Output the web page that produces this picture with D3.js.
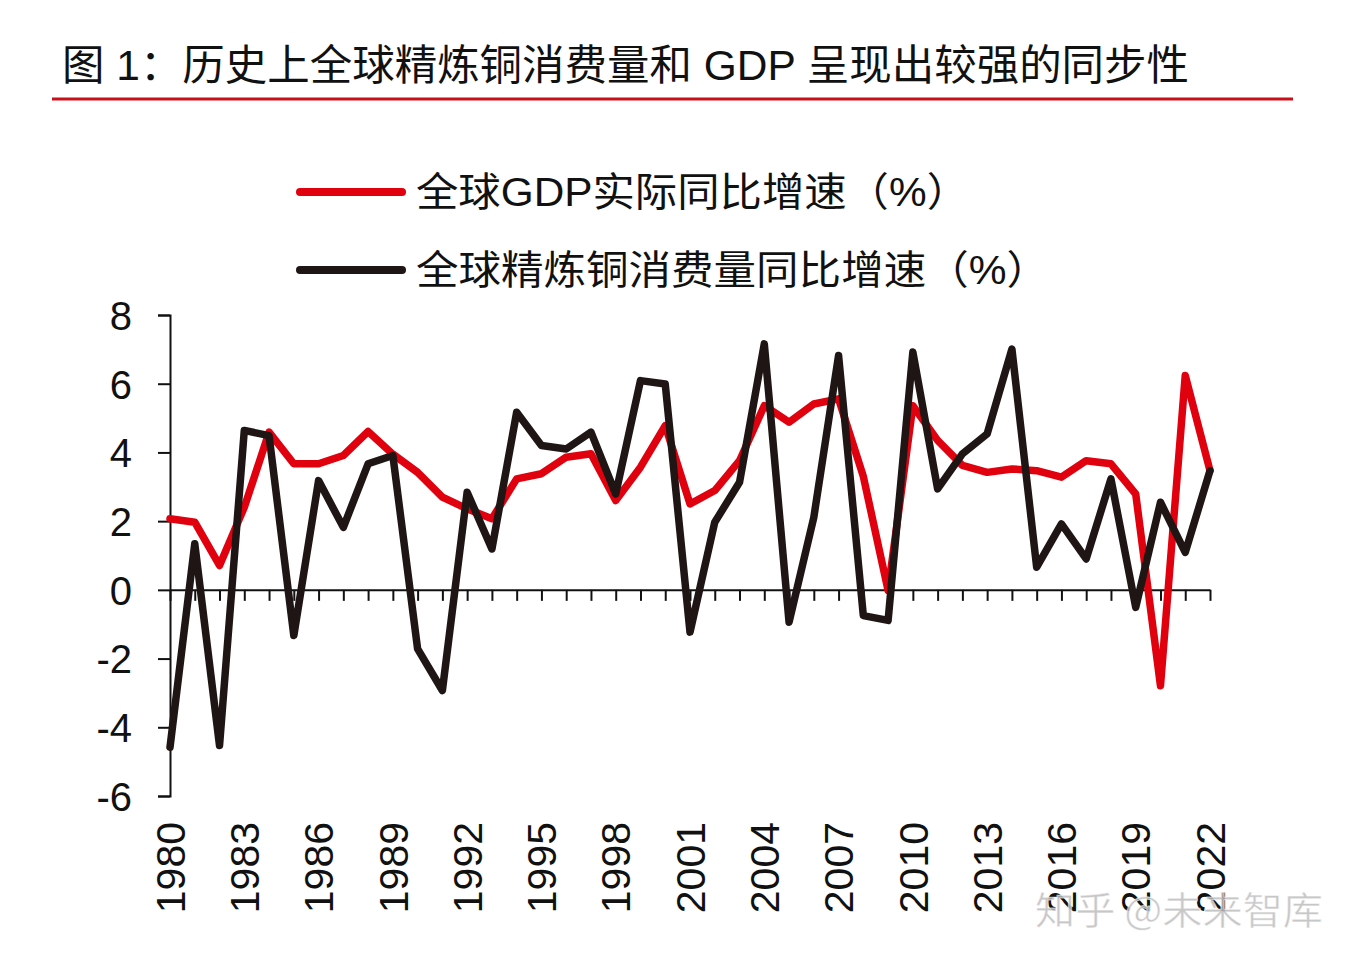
<!DOCTYPE html>
<html>
<head>
<meta charset="utf-8">
<script src="https://cdn.jsdelivr.net/npm/d3@7/dist/d3.min.js"></script>
<style>
  html, body { margin: 0; padding: 0; background: #fff; }
  svg { display: block; }
</style>
</head>
<body>
<svg id="chart" width="1358" height="966"></svg>
<script>
const years = d3.range(1980, 2023);
const gdpGrowth = [
  2.07, 1.97, 0.71, 2.40, 4.59, 3.67, 3.67, 3.91, 4.61, 3.95,
  3.42, 2.70, 2.36, 2.07, 3.23, 3.38, 3.86, 3.96, 2.60, 3.57,
  4.78, 2.50, 2.89, 3.76, 5.36, 4.88, 5.41, 5.56, 3.30, -0.02,
  5.36, 4.35, 3.62, 3.42, 3.52, 3.47, 3.28, 3.76, 3.67, 2.79,
  -2.79, 6.24, 3.47
];
const copperGrowth = [
  -4.58, 1.34, -4.53, 4.64, 4.49, -1.33, 3.18, 1.82, 3.67, 3.91,
  -1.72, -2.93, 2.84, 1.19, 5.17, 4.20, 4.10, 4.59, 2.79, 6.09,
  5.99, -1.23, 1.97, 3.13, 7.16, -0.94, 2.11, 6.82, -0.75, -0.89,
  6.92, 2.94, 3.96, 4.54, 7.01, 0.66, 1.92, 0.90, 3.23, -0.51,
  2.55, 1.09, 3.47
];
const yTicks = [8, 6, 4, 2, 0, -2, -4, -6];
const xLabelYears = [1980, 1983, 1986, 1989, 1992, 1995, 1998, 2001, 2004, 2007, 2010, 2013, 2016, 2019, 2022];
const titleText = "图 1：历史上全球精炼铜消费量和 GDP 呈现出较强的同步性";
const seriesNames = ["全球GDP实际同比增速（%）", "全球精炼铜消费量同比增速（%）"];
const watermark = "知乎 @未来智库";

const RED = "#e0000e";
const BLACK = "#1f1515";
const latin = "'Liberation Sans', Arial, 'Noto Sans CJK SC', sans-serif";
const cjk = "'Liberation Sans', 'Noto Sans CJK SC', sans-serif";

const svg = d3.select("#chart");

// Title
svg.append("text")
  .attr("x", 62).attr("y", 80)
  .attr("font-family", cjk).attr("font-size", 42)
  .attr("fill", "#111")
  .attr("textLength", 1127).attr("lengthAdjust", "spacingAndGlyphs")
  .text(titleText);
svg.append("line")
  .attr("x1", 52).attr("x2", 1293).attr("y1", 99).attr("y2", 99)
  .attr("stroke", "#c8101a").attr("stroke-width", 3);

// Scales
const x = d3.scaleLinear().domain([1980, 2022]).range([170, 1210]);
const y = d3.scaleLinear().domain([-6, 8]).range([796, 315]);

// Y axis
const yAxis = d3.axisLeft(y).tickValues(yTicks).tickSize(12).tickSizeOuter(12)
  .tickFormat(d => d3.format("d")(d));
const gy = svg.append("g").attr("transform", "translate(170,0)").call(yAxis);
gy.select(".domain").attr("stroke", "#111").attr("stroke-width", 2);
gy.selectAll(".tick line").attr("stroke", "#111").attr("stroke-width", 2);
gy.selectAll(".tick text")
  .attr("font-family", latin).attr("font-size", 40).attr("fill", "#111")
  .attr("x", -38).attr("dy", "0.36em").text(d => d < 0 ? "-" + Math.abs(d) : d);

// X axis at zero
const xAxis = d3.axisBottom(x).tickValues(years).tickSize(11).tickSizeOuter(0).tickFormat("");
const gx = svg.append("g").attr("transform", `translate(0,${y(0)})`).call(xAxis);
gx.select(".domain").attr("stroke", "#111").attr("stroke-width", 2);
gx.selectAll(".tick line").attr("stroke", "#111").attr("stroke-width", 2);

// X labels (rotated) at bottom
svg.append("g").selectAll("text").data(xLabelYears).join("text")
  .attr("transform", d => `translate(${x(d)},822) rotate(-90)`)
  .attr("text-anchor", "end").attr("dy", "0.36em")
  .attr("font-family", latin).attr("font-size", 41).attr("fill", "#111")
  .text(d => d);

// Lines
const line = d3.line().x((d, i) => x(years[i])).y(d => y(d)).curve(d3.curveLinear);
svg.append("path").datum(gdpGrowth)
  .attr("d", line).attr("fill", "none").attr("stroke", RED)
  .attr("stroke-width", 7.5).attr("stroke-linejoin", "round").attr("stroke-linecap", "round");
svg.append("path").datum(copperGrowth)
  .attr("d", line).attr("fill", "none").attr("stroke", BLACK)
  .attr("stroke-width", 7.5).attr("stroke-linejoin", "round").attr("stroke-linecap", "round");

// Legend
const legend = svg.append("g");
const legendRows = [
  { name: seriesNames[0], color: RED, y: 192, len: 553 },
  { name: seriesNames[1], color: BLACK, y: 270, len: 633 }
];
legendRows.forEach(r => {
  legend.append("line")
    .attr("x1", 300).attr("x2", 402).attr("y1", r.y).attr("y2", r.y)
    .attr("stroke", r.color).attr("stroke-width", 8).attr("stroke-linecap", "round");
  legend.append("text")
    .attr("x", 416).attr("y", r.y + 14)
    .attr("font-family", cjk).attr("font-size", 40).attr("fill", "#111")
    .attr("textLength", r.len).attr("lengthAdjust", "spacingAndGlyphs")
    .text(r.name);
});

// Watermark
svg.append("text")
  .attr("x", 1035).attr("y", 924)
  .attr("font-family", "'Noto Sans CJK SC', sans-serif").attr("font-size", 38)
  .attr("fill", "#bdbdbd").attr("fill-opacity", 0.85)
  .attr("stroke", "#ffffff").attr("stroke-width", 1).attr("stroke-opacity", 0.6)
  .attr("textLength", 288).attr("lengthAdjust", "spacingAndGlyphs")
  .text(watermark);
</script>
</body>
</html>
